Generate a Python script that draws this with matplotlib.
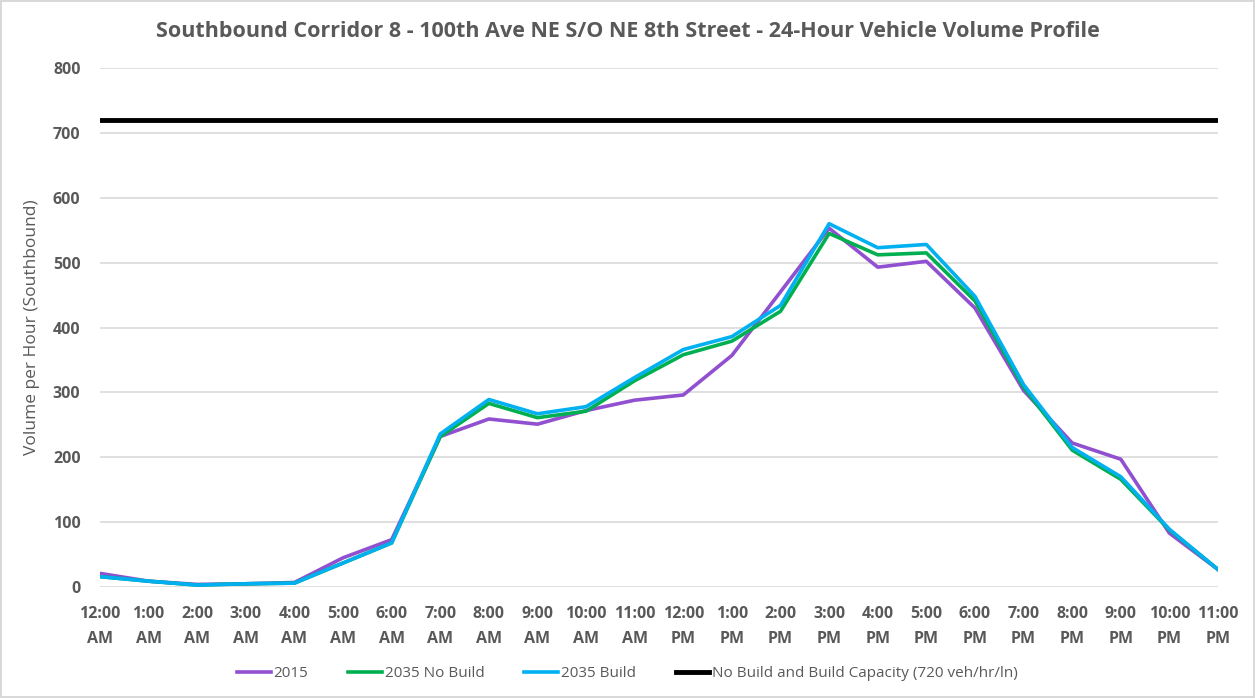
import matplotlib.pyplot as plt
import numpy as np

plt.rcParams['font.family'] = ['Open Sans', 'DejaVu Sans']

hours = ['12:00\nAM', '1:00\nAM', '2:00\nAM', '3:00\nAM', '4:00\nAM', '5:00\nAM',
         '6:00\nAM', '7:00\nAM', '8:00\nAM', '9:00\nAM', '10:00\nAM', '11:00\nAM',
         '12:00\nPM', '1:00\nPM', '2:00\nPM', '3:00\nPM', '4:00\nPM', '5:00\nPM',
         '6:00\nPM', '7:00\nPM', '8:00\nPM', '9:00\nPM', '10:00\nPM', '11:00\nPM']

vol_2015 = [21, 9, 4, 5, 7, 45, 73, 232, 259, 251, 272, 288, 296, 357, 455, 553,
            493, 502, 430, 303, 222, 197, 83, 27]
vol_2035_nb = [16, 9, 3, 5, 6, 37, 68, 232, 283, 261, 271, 318, 358, 379, 425, 545,
               512, 515, 441, 308, 211, 166, 88, 27]
vol_2035_b = [16, 9, 3, 5, 6, 37, 68, 236, 289, 267, 278, 323, 366, 386, 434, 560,
              523, 528, 448, 312, 215, 170, 89, 27]
capacity = 720

txt = '#595959'

fig = plt.figure(figsize=(12.55, 6.98), dpi=100)
fig.patch.set_edgecolor('#D9D9D9')
fig.patch.set_linewidth(1.5)
ax = fig.add_axes([100 / 1255, 0.159, (1218 - 100) / 1255, 0.7436])

x = np.arange(len(hours))
ax.plot(x, vol_2015, color='#9150D0', lw=2.6, label='2015', zorder=3)
ax.plot(x, vol_2035_nb, color='#00B050', lw=2.6, label='2035 No Build', zorder=4)
ax.plot(x, vol_2035_b, color='#00B0F0', lw=2.6, label='2035 Build', zorder=5)
ax.plot(x, [capacity] * len(x), color='black', lw=3.5,
        label='No Build and Build Capacity (720 veh/hr/ln)', zorder=6)

ax.set_xlim(0, len(hours) - 1)
ax.set_ylim(0, 800)
ax.set_yticks(range(0, 801, 100))
ax.set_xticks(x)
ax.set_xticklabels(hours)
ax.grid(axis='y', color='#D9D9D9', lw=1.2)
ax.set_axisbelow(True)
for s in ax.spines.values():
    s.set_visible(False)
ax.tick_params(length=0, colors=txt, labelsize=11.5)
ax.tick_params(axis='x', pad=14)
ax.tick_params(axis='y', pad=14)
for lab in ax.get_xticklabels() + ax.get_yticklabels():
    lab.set_fontweight('bold')
    lab.set_color(txt)
for lab in ax.get_xticklabels():
    lab.set_linespacing(1.75)

ax.set_ylabel('Volume per Hour (Southbound)', color=txt, fontsize=12.5, labelpad=9)
fig.text(0.5, 0.955, 'Southbound Corridor 8 - 100th Ave NE S/O NE 8th Street - 24-Hour Vehicle Volume Profile',
         ha='center', va='center', fontsize=15.5, fontweight='bold', color=txt)

leg = fig.legend(loc='center', bbox_to_anchor=(0.5, 0.035), ncol=4, frameon=False,
                 fontsize=11, handlelength=2.2, handletextpad=0.2, columnspacing=2.6)
for t in leg.get_texts():
    t.set_color(txt)

fig.savefig('out.png', dpi=100)
